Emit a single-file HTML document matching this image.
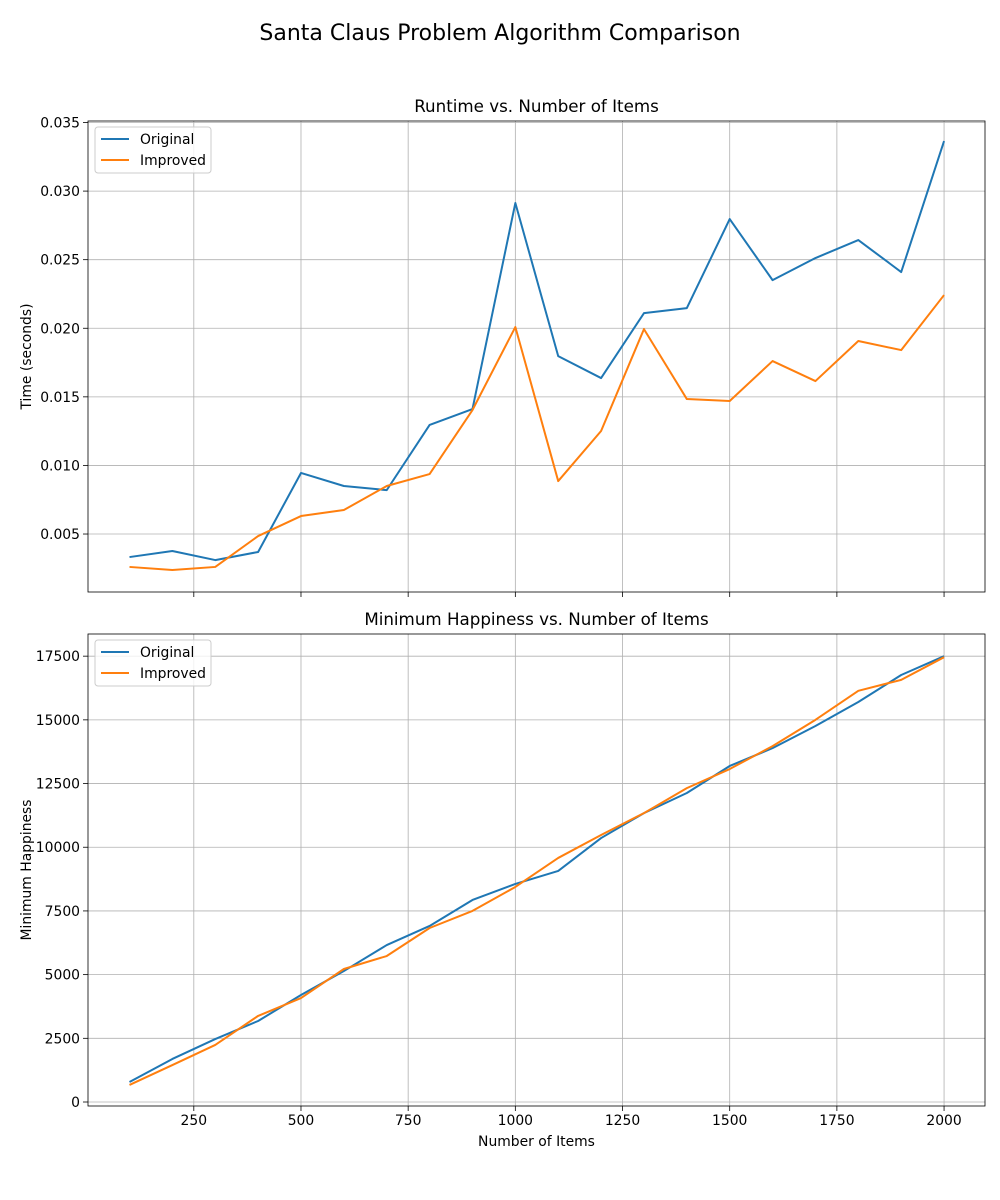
<!DOCTYPE html>
<html><head><meta charset="utf-8"><style>
body{margin:0;background:#fff}
svg{display:block;font-family:"DejaVu Sans","Liberation Sans",sans-serif}
</style></head><body>
<svg id="fig" width="1000" height="1200"></svg>
<script>
const xs=[100,200,300,400,500,600,700,800,900,1000,1100,1200,1300,1400,1500,1600,1700,1800,1900,2000];
const rtOriginal=[0.00332,0.00376,0.0031,0.00369,0.00945,0.0085,0.0082,0.01295,0.01411,0.02913,0.01797,0.01637,0.0211,0.02147,0.02796,0.02351,0.02512,0.02643,0.0241,0.03365];
const rtImproved=[0.0026,0.00238,0.0026,0.00485,0.00631,0.00675,0.0085,0.00937,0.01404,0.02009,0.00886,0.01251,0.01994,0.01484,0.0147,0.01761,0.01615,0.01907,0.01841,0.02242];
const hapOriginal=[785,1690,2470,3180,4200,5140,6160,6910,7930,8560,9070,10360,11340,12130,13190,13890,14760,15700,16760,17500];
const hapImproved=[670,1450,2240,3380,4080,5220,5730,6830,7500,8440,9580,10480,11340,12320,13070,13970,15000,16140,16570,17460];
const xTicks=[250,500,750,1000,1250,1500,1750,2000];
const rtTicks=[0.005,0.010,0.015,0.020,0.025,0.030,0.035];
const hapTicks=[0,2500,5000,7500,10000,12500,15000,17500];

const NS="http://www.w3.org/2000/svg";
const svg=document.getElementById('fig');
function mk(tag,attrs,parent){const e=document.createElementNS(NS,tag);for(const k in attrs)e.setAttribute(k,attrs[k]);(parent||svg).appendChild(e);return e;}
const L=88,R=985,xMin=3.2,xMax=2095.5;
const xS=v=>L+(v-xMin)/(xMax-xMin)*(R-L);

let t=mk('text',{x:500,y:40,'text-anchor':'middle','font-size':22,fill:'#000'});
t.textContent='Santa Claus Problem Algorithm Comparison';



function panel(name,top,bot,yMin,yMax,ticks,fmt,title,ylabel,s1,s2,showX){
  const g=mk('g',{});
  
  
  const yS=v=>bot-(v-yMin)/(yMax-yMin)*(bot-top);
  xTicks.forEach(v=>{const x=xS(v);
    const l=mk('line',{x1:x,x2:x,y1:top,y2:bot,stroke:'#b0b0b0','stroke-width':0.8},g);
    
    mk('line',{x1:x,x2:x,y1:bot,y2:bot+5,stroke:'#000','stroke-width':0.8},g);
    if(showX){const tt=mk('text',{x:x,y:bot+19,'text-anchor':'middle','font-size':13.9},g);tt.textContent=v;
      }
  });
  ticks.forEach(v=>{const y=yS(v);
    const l=mk('line',{x1:L,x2:R,y1:y,y2:y,stroke:'#b0b0b0','stroke-width':0.8},g);
    
    mk('line',{x1:L-5,x2:L,y1:y,y2:y,stroke:'#000','stroke-width':0.8},g);
    const tt=mk('text',{x:L-8,y:y+5,'text-anchor':'end','font-size':13.9},g);tt.textContent=fmt(v);
    
  });
  [[s1,'#1f77b4','series-original'],[s2,'#ff7f0e','series-improved']].forEach(([s,c,n])=>{
    const p=mk('polyline',{points:xs.map((x,i)=>xS(x)+','+yS(s[i])).join(' '),fill:'none',stroke:c,'stroke-width':2,'stroke-linejoin':'round'},g);
    
  });
  mk('rect',{x:L,y:top,width:R-L,height:bot-top,fill:'none',stroke:'#000','stroke-width':0.8},g);
  const tt=mk('text',{x:(L+R)/2,y:top-9,'text-anchor':'middle','font-size':16.7},g);tt.textContent=title;
  
  const yl=mk('text',{x:0,y:0,'text-anchor':'middle','font-size':13.9,transform:`translate(31,${(top+bot)/2}) rotate(-90)`},g);yl.textContent=ylabel;
  
  const lg=mk('g',{},g);
  
  mk('rect',{x:95,y:top+6,width:116,height:46,rx:3,fill:'#fff','fill-opacity':0.8,stroke:'#ccc'},lg);
  [['Original','#1f77b4',top+18],['Improved','#ff7f0e',top+39]].forEach(([n,c,y])=>{
    mk('line',{x1:101,x2:129,y1:y,y2:y,stroke:c,'stroke-width':2},lg);
    const e=mk('text',{x:140,y:y+5,'font-size':13.9},lg);e.textContent=n;
    
  });
}
panel('runtime-chart',121,592,0.000773,0.03511,rtTicks,v=>v.toFixed(3),'Runtime vs. Number of Items','Time (seconds)',rtOriginal,rtImproved,false);
panel('happiness-chart',634,1106,-157,18370,hapTicks,v=>String(v),'Minimum Happiness vs. Number of Items','Minimum Happiness',hapOriginal,hapImproved,true);
const xl=mk('text',{x:(L+R)/2,y:1146,'text-anchor':'middle','font-size':13.9});
xl.textContent='Number of Items';


</script>
</body></html>
